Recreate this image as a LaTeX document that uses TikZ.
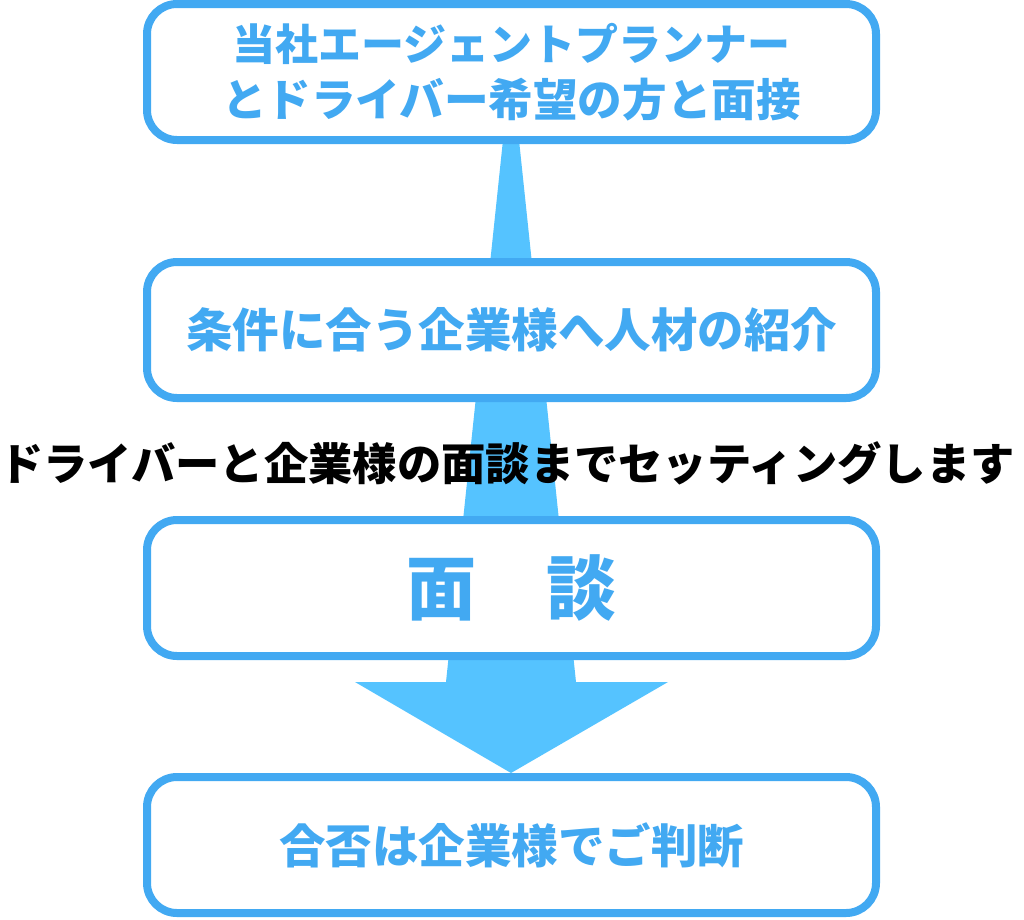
\documentclass[tikz,border=0pt]{standalone}
\usepackage{fontspec}
\newfontfamily\jpfont{Noto Sans CJK JP}

\definecolor{boxblue}{HTML}{42A9F2}
\definecolor{arrowblue}{HTML}{55C3FF}

\tikzset{
    stepbox/.style={draw=boxblue, line width=8pt, fill=white, rounded corners=30pt,
        minimum width=729pt, minimum height=136pt, inner sep=0pt, align=center,
        text=boxblue, font=\jpfont\bfseries\fontsize{46.5}{56}\selectfont},
}

\begin{document}
\begin{tikzpicture}[x=1pt,y=-1pt]
    % Frame
    \useasboundingbox (0,0) rectangle (1024,919);

    % Arrow (behind the boxes)
    \coordinate (a1) at (503,140);
    \coordinate (a2) at (519,140);
    \coordinate (a3) at (576,682);
    \coordinate (a4) at (668,682);
    \coordinate (tip) at (511,773);
    \coordinate (a5) at (355,682);
    \coordinate (a6) at (446,682);
    \fill[arrowblue] (a1) -- (a2) -- (a3) -- (a4) -- (tip) -- (a5) -- (a6) -- cycle;

    % Steps
    \node[stepbox, font=\jpfont\bfseries\fontsize{44.6}{56}\selectfont] (s1) at (511.5,72)
        {{\fontsize{43}{56}\selectfont 当社エージェントプランナー}\\とドライバー希望の方と面接};
    \node[stepbox] (s2) at (511.5,330) {条件に合う企業様へ人材の紹介};
    \node[stepbox, font=\jpfont\bfseries\fontsize{70}{80}\selectfont] (s3) at (511.5,588) {面　談};
    \node[stepbox] (s4) at (511.5,845) {合否は企業様でご判断};

    % Caption over the arrow
    \node[font=\jpfont\bfseries\fontsize{44.3}{56}\selectfont, inner sep=0pt] (cap) at (507,463) {ドライバーと企業様の面談までセッティングします};
\end{tikzpicture}
\end{document}
